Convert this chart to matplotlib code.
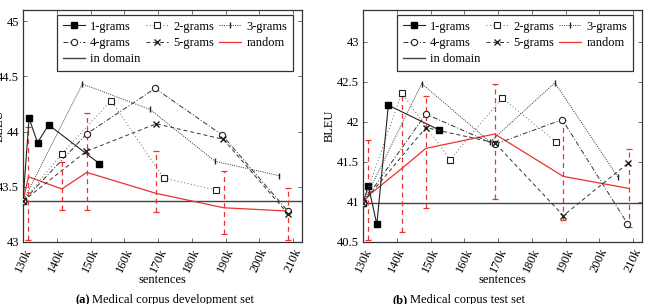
import matplotlib.pyplot as plt

plt.rcParams['font.family'] = ['Liberation Serif', 'DejaVu Serif']
plt.rcParams['font.size'] = 9

xticks = [130, 140, 150, 160, 170, 180, 190, 200, 210]
xtick_labels = ['130k', '140k', '150k', '160k', '170k', '180k', '190k', '200k', '210k']

# (a) development set
dev_domain = 43.37
dev_1g_x = [130, 131.8, 134.3, 137.6, 152.6]
dev_1g_y = [43.37, 44.12, 43.90, 44.06, 43.71]
dev_2g_x = [130, 141.5, 156.1, 171.6, 187.1]
dev_2g_y = [43.37, 43.80, 44.28, 43.58, 43.47]
dev_3g_x = [130, 147.6, 167.6, 186.9, 205.9]
dev_3g_y = [43.37, 44.43, 44.20, 43.73, 43.60]
dev_4g_x = [130, 148.9, 169.1, 188.9, 208.4]
dev_4g_y = [43.37, 43.98, 44.39, 43.97, 43.28]
dev_5g_x = [130, 148.7, 169.4, 189.3, 208.6]
dev_5g_y = [43.37, 43.82, 44.07, 43.93, 43.25]
dev_rand_x = [130, 131.6, 141.5, 148.9, 169.4, 189.4, 208.4]
dev_rand_y = [43.37, 43.59, 43.48, 43.63, 43.44, 43.31, 43.28]
dev_rand_lo = [43.02, 43.29, 43.29, 43.27, 43.07, 43.02]
dev_rand_hi = [44.04, 43.72, 44.17, 43.82, 43.64, 43.49]

# (b) test set
test_domain = 40.99
test_1g_x = [130, 131.6, 134.1, 137.5, 152.6]
test_1g_y = [40.99, 41.20, 40.72, 42.21, 41.90]
test_2g_x = [130, 141.5, 155.8, 171.2, 187.2]
test_2g_y = [40.99, 42.36, 41.53, 42.30, 41.75]
test_3g_x = [130, 147.4, 167.6, 186.8, 205.5]
test_3g_y = [40.99, 42.48, 41.75, 42.49, 41.31]
test_4g_x = [130, 148.6, 169.0, 189.0, 208.3]
test_4g_y = [40.99, 42.10, 41.72, 42.03, 40.73]
test_5g_x = [130, 148.6, 169.0, 189.3, 208.6]
test_5g_y = [40.99, 41.93, 41.74, 40.83, 41.49]
test_rand_x = [130, 131.6, 141.5, 148.6, 169.0, 189.3, 208.7]
test_rand_y = [40.99, 41.08, 41.42, 41.67, 41.85, 41.32, 41.17]
test_rand_lo = [40.52, 40.62, 40.92, 41.04, 40.77, 40.69]
test_rand_hi = [41.78, 42.32, 42.33, 42.48, 42.03, 41.66]


def draw_panel(ax, domain, series, rand_x, rand_y, rand_lo, rand_hi, ylim, yticks):
    (x1, y1), (x2, y2), (x3, y3), (x4, y4), (x5, y5) = series
    l1, = ax.plot(x1, y1, '-', color='#222222', lw=0.8, marker='s', ms=4.5,
                  mfc='black', mec='black', label='1-grams', zorder=4)
    l2, = ax.plot(x2, y2, color='#666666', lw=0.7, ls=(0, (1, 2.5)), marker='s', ms=4.5,
                  mfc='white', mec='#222222', mew=0.8, label='2-grams', zorder=4)
    l3, = ax.plot(x3, y3, color='#333333', lw=0.7, ls=(0, (1, 1.3)), marker='|', ms=5,
                  mec='#222222', label='3-grams', zorder=4)
    l4, = ax.plot(x4, y4, color='#333333', lw=0.7, ls=(0, (5, 2, 1, 2)), marker='o', ms=4.5,
                  mfc='white', mec='#222222', mew=0.8, label='4-grams', zorder=4)
    l5, = ax.plot(x5, y5, color='#333333', lw=0.7, ls=(0, (4, 3)), marker='x', ms=4,
                  mec='#222222', label='5-grams', zorder=4)
    lr, = ax.plot(rand_x, rand_y, '-', color='#e8332f', lw=0.9, label='random', zorder=3)
    ex = rand_x[1:]
    ey = rand_y[1:]
    err = [[y - lo for y, lo in zip(ey, rand_lo)], [hi - y for y, hi in zip(ey, rand_hi)]]
    eb = ax.errorbar(ex, ey, yerr=err, fmt='none', ecolor='#e8332f', elinewidth=0.9,
                     capsize=2, capthick=0.9, zorder=2)
    eb[2][0].set_linestyle((0, (4, 3)))
    ld = ax.axhline(domain, color='#444444', lw=1.0, label='in domain', zorder=1)

    ax.set_xlim(130, 212.6)
    ax.set_ylim(*ylim)
    ax.set_xticks(xticks)
    ax.set_xticklabels(xtick_labels, rotation=65)
    ax.set_yticks(yticks)
    ax.set_yticklabels(['%g' % t for t in yticks])
    ax.tick_params(direction='in', top=True, right=True, length=3, width=0.6,
                   color='#555555', pad=3)
    for s in ax.spines.values():
        s.set_linewidth(0.9)
        s.set_color('#333333')
    ax.set_xlabel('sentences', labelpad=0)

    handles = [l1, l4, ld, l2, l5, l3, lr]
    leg = ax.legend(handles=handles, labels=[h.get_label() for h in handles], ncol=3,
                    loc='upper left', bbox_to_anchor=(0.122, 0.978), fancybox=False,
                    edgecolor='#333333', framealpha=1, borderpad=0.45, labelspacing=0.35,
                    columnspacing=0.4, handlelength=1.8, handletextpad=0.4, borderaxespad=0)
    leg.get_frame().set_linewidth(0.9)


fig = plt.figure(figsize=(6.45, 3.04), dpi=100)
ax1 = fig.add_axes([23 / 645, 1 - 242 / 304, 279 / 645, 232 / 304])
ax2 = fig.add_axes([363 / 645, 1 - 242 / 304, 279 / 645, 232 / 304])

draw_panel(ax1, dev_domain,
           [(dev_1g_x, dev_1g_y), (dev_2g_x, dev_2g_y), (dev_3g_x, dev_3g_y),
            (dev_4g_x, dev_4g_y), (dev_5g_x, dev_5g_y)],
           dev_rand_x, dev_rand_y, dev_rand_lo, dev_rand_hi,
           (43, 45.1), [43, 43.5, 44, 44.5, 45])
draw_panel(ax2, test_domain,
           [(test_1g_x, test_1g_y), (test_2g_x, test_2g_y), (test_3g_x, test_3g_y),
            (test_4g_x, test_4g_y), (test_5g_x, test_5g_y)],
           test_rand_x, test_rand_y, test_rand_lo, test_rand_hi,
           (40.5, 43.4), [40.5, 41, 41.5, 42, 42.5, 43])

ax1.set_ylabel('BLEU')
ax1.yaxis.set_label_coords(-0.062, 0.5)
ax2.set_ylabel('BLEU')
ax2.yaxis.set_label_coords(-0.097, 0.5)

cap_y = 1 - 294 / 304
fig.text(75 / 645, cap_y, '(a)', fontweight='bold', va='top', ha='left')
fig.text(92 / 645, cap_y, 'Medical corpus development set', va='top', ha='left')
fig.text(393 / 645, cap_y, '(b)', fontweight='bold', va='top', ha='left')
fig.text(410 / 645, cap_y, 'Medical corpus test set', va='top', ha='left')

fig.savefig('out.png', dpi=100)
